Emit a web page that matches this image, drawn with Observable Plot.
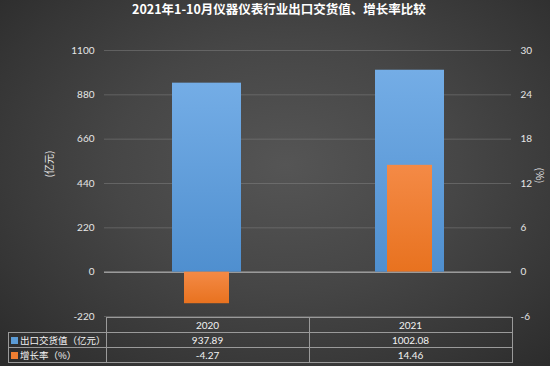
<!DOCTYPE html>
<html>
<head>
<meta charset="utf-8">
<script src="https://cdn.jsdelivr.net/npm/d3@7"></script>
<script src="https://cdn.jsdelivr.net/npm/@observablehq/plot@0.6"></script>
<style>
  html, body { margin: 0; padding: 0; background: #333; }
  #wrap {
    position: relative; width: 550px; height: 366px; overflow: hidden;
    background: radial-gradient(ellipse 70% 75% at 52% 45%, #555555 0%, #464646 45%, #363636 80%, #2c2c2c 100%);
    font-family: Lato, "Noto Sans CJK SC", sans-serif;
  }
  #title {
    position: absolute; top: -1px; left: 4px; width: 550px; text-align: center;
    color: #fff; font-weight: bold; font-size: 12.5px; font-family: "Noto Sans CJK SC", Lato, sans-serif;
  }
  #chart { position: absolute; left: 0; top: 0; }
  #tbl {
    position: absolute; left: 8px; top: 317px; border-collapse: collapse;
    color: #f2f2f2; font-size: 10px; table-layout: fixed;
  }
  #tbl tr { height: 15px; }
  #tbl td { border: 1px solid #9a9a9a; padding: 0; text-align: center; line-height: 13px; white-space: nowrap; overflow: visible; }
  #tbl td.lab { text-align: left; padding-left: 2px; font-family: "Noto Sans CJK SC", sans-serif; font-size: 9.5px; }
  #tbl td.empty { border-top: none; border-left: none; border-bottom: 1px solid #9a9a9a; }
  .sq { display: inline-block; width: 7px; height: 7px; margin-right: 2px; vertical-align: 0px; }
</style>
</head>
<body>
<div id="wrap">
  <div id="title">2021年1-10月仪器仪表行业出口交货值、增长率比较</div>
  <div id="chart"></div>
  <table id="tbl"></table>
</div>
<script>
const years = ["2020", "2021"];
const exportValue = [937.89, 1002.08];
const growthRate = [-4.27, 14.46];
const leftTicks = [-220, 0, 220, 440, 660, 880, 1100];
const rightTicks = [-6, 0, 6, 12, 18, 24, 30];
const seriesNames = ["出口交货值（亿元）", "增长率（%）"];
const seriesColors = ["#5b9bd5", "#ed7d31"];

const ratio = 1100 / 30;
const data = years.map((y, i) => ({year: y, value: exportValue[i], rate: growthRate[i]}));

const plot = Plot.plot({
  width: 550,
  height: 366,
  marginTop: 50,
  marginBottom: 50,
  marginLeft: 104,
  marginRight: 39,
  style: {background: "transparent", color: "#e0e0e0", fontSize: "10px", fontFamily: "Lato, 'Noto Sans CJK SC', sans-serif"},
  x: {type: "band", domain: years, padding: 0, axis: null},
  y: {domain: [-220, 1100]},
  marks: [
    Plot.gridY(leftTicks, {stroke: "#8a8a8a", strokeOpacity: 0.45}),
    Plot.ruleY([0], {stroke: "#9a9a9a", strokeWidth: 1.5}),
    Plot.axisY({anchor: "left", ticks: leftTicks, tickSize: 0, tickPadding: 10, label: null, fill: "#e6e6e6",
      tickFormat: (d) => String(d)}),
    Plot.axisY({anchor: "right", ticks: leftTicks, tickSize: 0, tickPadding: 9, label: null, fill: "#e6e6e6",
      tickFormat: (d) => String(rightTicks[leftTicks.indexOf(d)])}),
    Plot.text(["(亿元)"], {frameAnchor: "left", dx: -55, dy: -6, rotate: -90, fill: "#e6e6e6", fontSize: 10,
      fontFamily: "Noto Sans CJK SC"}),
    Plot.text(["(%)"], {frameAnchor: "right", dx: 28, dy: 0, rotate: 90, fill: "#e6e6e6", fontSize: 10,
      fontFamily: "Noto Sans CJK SC"}),
    Plot.barY(data, {x: "year", y1: 0, y2: "value", fill: "url(#gBlue)", insetLeft: 67, insetRight: 67}),
    Plot.barY(data, {x: "year", y1: 0, y2: (d) => d.rate * ratio, fill: "url(#gOrange)", insetLeft: 79, insetRight: 79})
  ]
});
plot.insertAdjacentHTML("afterbegin",
  `<defs>
    <linearGradient id="gBlue" x1="0" y1="0" x2="0" y2="1">
      <stop offset="0" stop-color="#74ade6"/><stop offset="1" stop-color="#4f8fcf"/>
    </linearGradient>
    <linearGradient id="gOrange" x1="0" y1="0" x2="0" y2="1">
      <stop offset="0" stop-color="#f48a46"/><stop offset="1" stop-color="#e8721f"/>
    </linearGradient>
  </defs>`);
document.getElementById("chart").appendChild(plot);

// data table beneath the plot, aligned with the x band scale
const xs = plot.scale("x");
const bw = xs.bandwidth;
const tbl = d3.select("#tbl");
const cg = tbl.append("colgroup");
cg.append("col").style("width", (104 - 8) + "px");
years.forEach(() => cg.append("col").style("width", bw + "px"));
const hr = tbl.append("tr");
hr.append("td").attr("class", "empty");
years.forEach(y => hr.append("td").text(y));
[exportValue, growthRate].forEach((vals, k) => {
  const tr = tbl.append("tr");
  const lab = tr.append("td").attr("class", "lab");
  lab.append("span").attr("class", "sq").style("background", seriesColors[k]);
  lab.append("span").text(seriesNames[k]);
  vals.forEach(v => tr.append("td").text(v.toFixed(2)));
});
</script>
</body>
</html>
